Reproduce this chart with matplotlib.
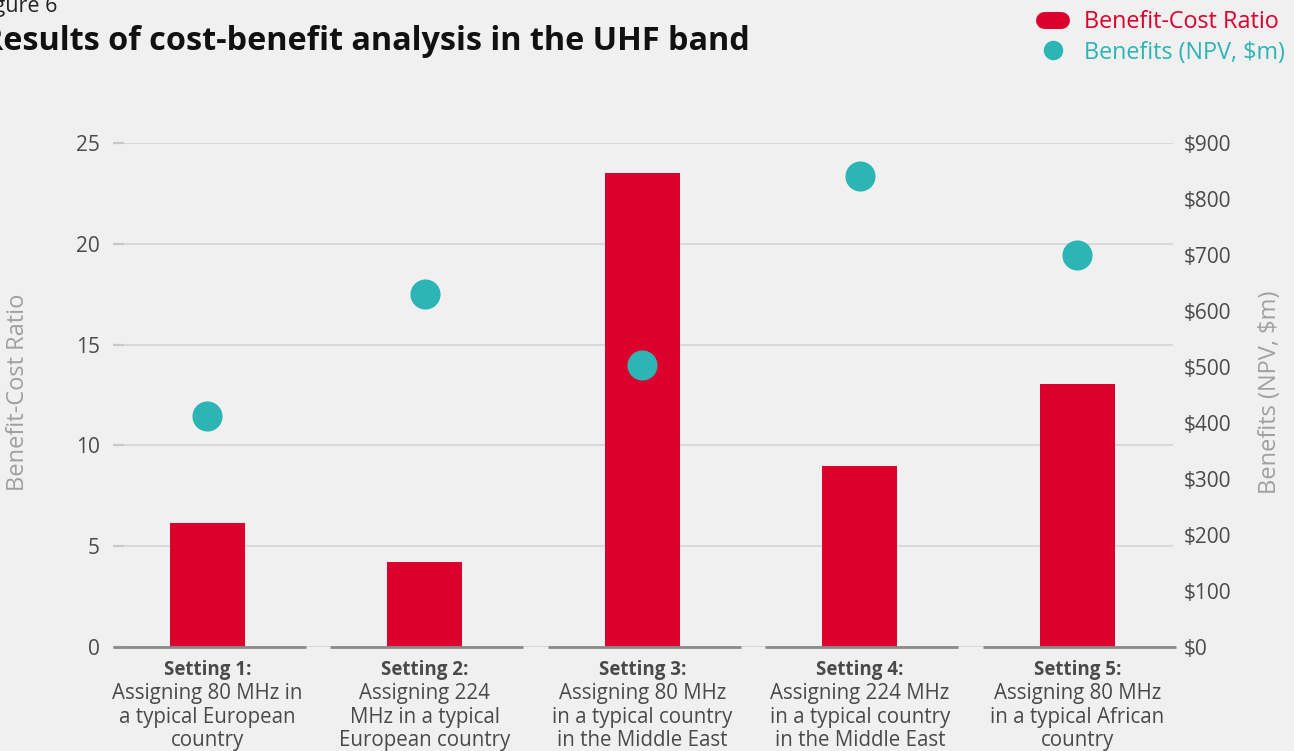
import matplotlib
matplotlib.use("Agg")
import matplotlib.pyplot as plt
from matplotlib.lines import Line2D

# ---- data ----
settings = ["Setting 1:", "Setting 2:", "Setting 3:", "Setting 4:", "Setting 5:"]
descriptions = [
    "Assigning 80 MHz in\na typical European\ncountry",
    "Assigning 224\nMHz in a typical\nEuropean country",
    "Assigning 80 MHz\nin a typical country\nin the Middle East",
    "Assigning 224 MHz\nin a typical country\nin the Middle East",
    "Assigning 80 MHz\nin a typical African\ncountry",
]
bcr = [6.15, 4.2, 23.5, 9.0, 13.05]
npv = [413, 630, 503, 841, 700]
left_ticks = [0, 5, 10, 15, 20, 25]
right_ticks = [0, 100, 200, 300, 400, 500, 600, 700, 800, 900]
right_labels = ["$" + str(v) for v in right_ticks]

RED = "#dc002d"
TEAL = "#2cb5b4"
BG = "#f0f0f0"
TXT = "#4a4a4a"
LBL = "#a0a0a0"

plt.rcParams['font.family'] = ['Open Sans', 'DejaVu Sans']

fig = plt.figure(figsize=(12.94, 7.51), dpi=100, facecolor=BG)
W, H = 1294, 751
ax = fig.add_axes([113 / W, 1 - 647 / H, (1173 - 113) / W, (647 - 143) / H])
ax.set_facecolor(BG)
ax2 = ax.twinx()

x = list(range(len(settings)))
ax.bar(x, bcr, width=0.345, color=RED, zorder=3)
ax.set_ylim(0, 25)
ax.set_xlim(-0.434, 4.44)
ax.set_yticks(left_ticks)
ax.set_yticklabels([str(v) for v in left_ticks], fontsize=15, color=TXT)
ax.grid(axis='y', color='#d9d9d9', linewidth=1.4, zorder=0)
ax.set_axisbelow(True)
ax.tick_params(axis='y', direction='in', length=8, width=1.6, color='#c8c8c8', pad=9.5)
ax.set_xticks([])
for s in ax.spines.values():
    s.set_visible(False)

# base segments per category
for i in x:
    ax.plot([i - 0.434, i + 0.452], [0, 0], color='#8a8a8a', linewidth=2.0,
            solid_capstyle='butt', zorder=4, clip_on=False)

ax2.scatter(x, npv, s=470, color=TEAL, zorder=5, linewidths=0)
ax2.set_ylim(0, 900)
ax2.set_yticks(right_ticks)
ax2.set_yticklabels(right_labels, fontsize=15, color=TXT)
ax2.tick_params(axis='y', length=0, pad=8)
for s in ax2.spines.values():
    s.set_visible(False)

# axis titles
fig.text(18 / W, 1 - 392 / H, "Benefit-Cost Ratio", rotation=90, ha='center', va='center',
         fontsize=17, color=LBL)
fig.text(1270 / W, 1 - 392 / H, "Benefits (NPV, $m)", rotation=90, ha='center', va='center',
         fontsize=17, color=LBL)

# category labels
for i in x:
    ax.annotate(settings[i], xy=(i, 0), xycoords=('data', 'axes fraction'),
                xytext=(0, -9), textcoords='offset points', ha='center', va='top',
                fontsize=13.5, fontweight='bold', color=TXT, annotation_clip=False)
    ax.annotate(descriptions[i], xy=(i, 0), xycoords=('data', 'axes fraction'),
                xytext=(0, -26), textcoords='offset points', ha='center', va='top',
                fontsize=14.8, color=TXT, linespacing=1.16, annotation_clip=False)

# title
fig.text(57 / W, 1 - 12 / H, "Figure 6", ha='right', va='baseline', fontsize=15.5, color='#222222')
fig.text(750 / W, 1 - 50 / H, "Results of cost-benefit analysis in the UHF band",
         ha='right', va='baseline', fontsize=23.3, fontweight='bold', color='#111111')

# legend
handles = [
    Line2D([0], [0], color=RED, linewidth=12.2, solid_capstyle='round'),
    Line2D([0], [0], color=TEAL, marker='o', markersize=13, linestyle='None'),
]
leg = fig.legend(handles, ["Benefit-Cost Ratio", "Benefits (NPV, $m)"],
                 loc='upper right', bbox_to_anchor=(1285 / W, 1 - 10 / H), frameon=False,
                 fontsize=16.8, handlelength=0.73, handletextpad=0.97, labelspacing=0.28,
                 borderaxespad=0, borderpad=0)
for t, c in zip(leg.get_texts(), [RED, TEAL]):
    t.set_color(c)

fig.savefig("out.png", dpi=100, facecolor=BG)
